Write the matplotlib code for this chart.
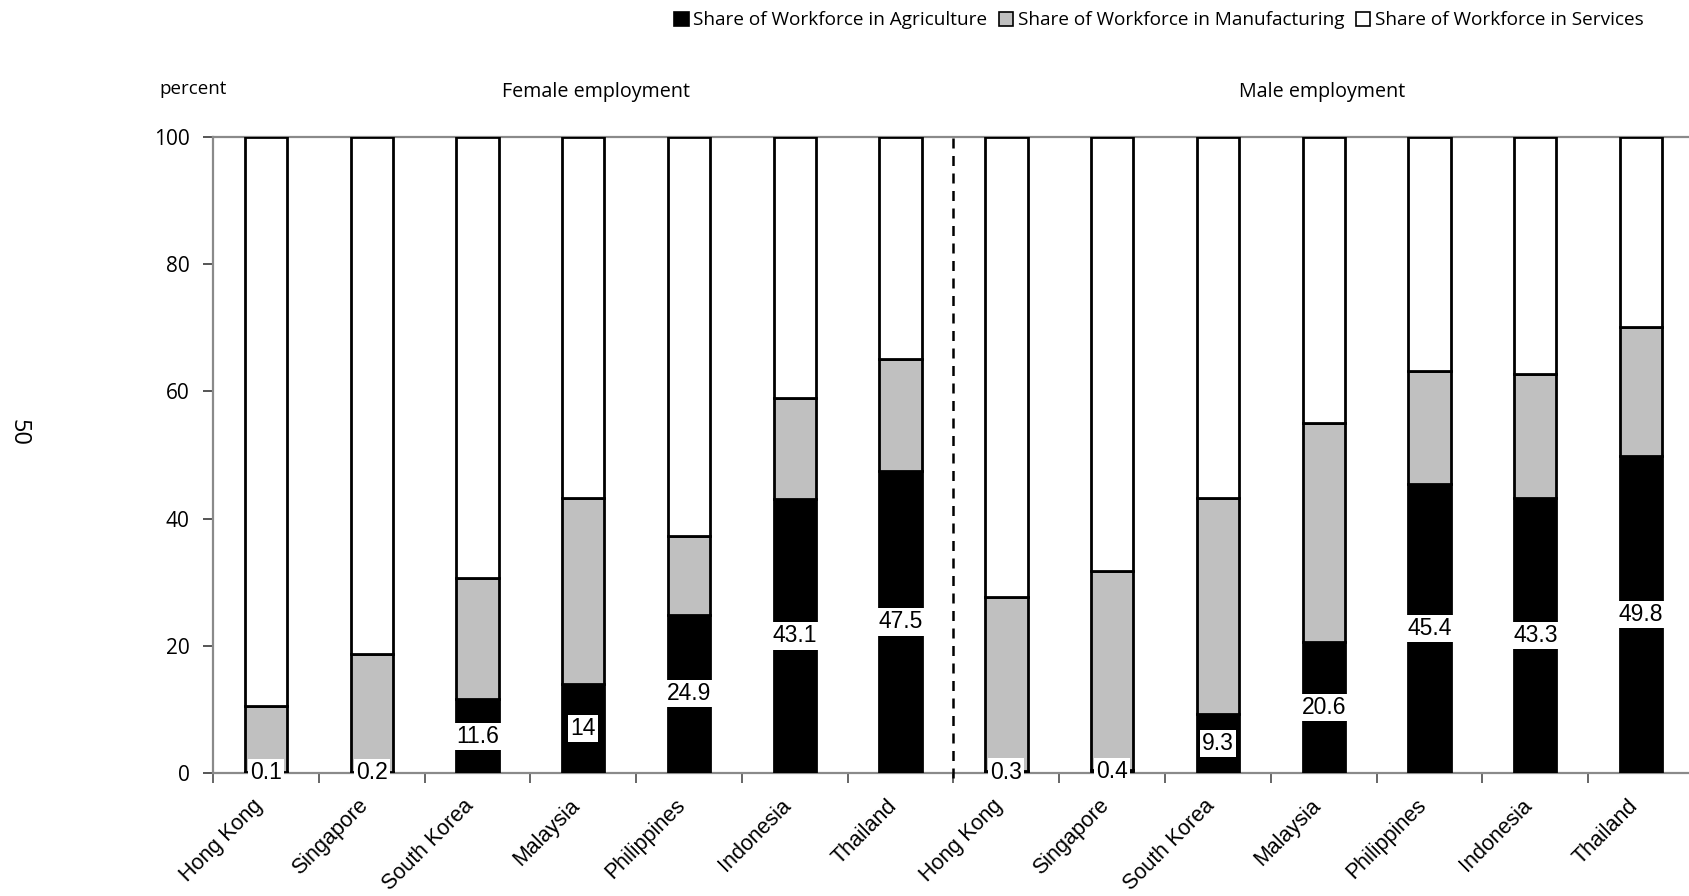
import matplotlib
matplotlib.use("Agg")
import matplotlib.pyplot as plt
from matplotlib.transforms import ScaledTranslation
import numpy as np

countries = ["Hong Kong", "Singapore", "South Korea", "Malaysia",
             "Philippines", "Indonesia", "Thailand"]

female_agri = [0.1, 0.2, 11.6, 14, 24.9, 43.1, 47.5]
female_manuf = [10.4, 18.5, 19.1, 29.3, 12.4, 15.8, 17.6]
male_agri = [0.3, 0.4, 9.3, 20.6, 45.4, 43.3, 49.8]
male_manuf = [27.4, 31.3, 34.0, 34.4, 17.8, 19.4, 20.4]

series_names = ["Share of Workforce in Agriculture",
                "Share of Workforce in Manufacturing",
                "Share of Workforce in Services"]
panel_titles = ["Female employment", "Male employment"]

agri = np.array(female_agri + male_agri)
manuf = np.array(female_manuf + male_manuf)
serv = 100 - agri - manuf
labels = countries + countries
x = np.arange(len(labels))

SANS = ["Liberation Sans", "DejaVu Sans"]
MYRIAD = ["Open Sans", "DejaVu Sans"]

fig = plt.figure(figsize=(16.89, 8.96), dpi=100)
ax = fig.add_axes([213 / 1689, 1 - 773 / 896, 1481 / 1689, 636 / 896])

w = 0.4
kw = dict(width=w, edgecolor="black", linewidth=2, zorder=3)
b1 = ax.bar(x, agri, color="black", label=series_names[0], **kw)
b2 = ax.bar(x, manuf, bottom=agri, color="#c0c0c0", label=series_names[1], **kw)
b3 = ax.bar(x, serv, bottom=agri + manuf, color="white", label=series_names[2], **kw)

# value labels centred in the agriculture segment
for xi, a in zip(x, agri):
    ax.text(xi, a / 2, f"{a:g}", ha="center", va="center", fontsize=16.5,
            family=SANS, zorder=5,
            bbox=dict(facecolor="white", edgecolor="none", pad=1.5))

ax.set_xlim(-0.5, len(labels) - 0.5)
ax.set_ylim(0, 100)

# divider between the two panels
ax.plot([6.5, 6.5], [-0.8, 100], color="black", linestyle=(0, (4, 3)),
        linewidth=1.8, zorder=4, clip_on=False)

ax.spines["right"].set_visible(False)
for side in ["left", "bottom", "top"]:
    ax.spines[side].set_color("#8a8a8a")
    ax.spines[side].set_linewidth(1.6)

ax.set_yticks([0, 20, 40, 60, 80, 100])
ax.tick_params(axis="y", length=7, width=1.4, color="#555555", pad=10,
               labelsize=15)
for t in ax.get_yticklabels():
    t.set_fontfamily(MYRIAD)

ax.set_xticks(x)
ax.set_xticklabels(labels, rotation=45, ha="right", rotation_mode="anchor",
                   fontsize=15.5, family=SANS)
ax.tick_params(axis="x", which="major", length=0, pad=16)
shift = ScaledTranslation(-14 / 100, 0, fig.dpi_scale_trans)
for t in ax.get_xticklabels():
    t.set_transform(t.get_transform() + shift)
ax.set_xticks(np.arange(-0.5, len(labels) - 0.4, 1), minor=True)
ax.tick_params(axis="x", which="minor", length=7, width=1.4, color="#666666")

fig.text(159 / 1689, 1 - 89 / 896, "percent", fontsize=13.5, family=MYRIAD,
         ha="left", va="center")
fig.text(596 / 1689, 1 - 92 / 896, panel_titles[0], fontsize=14.2,
         family=MYRIAD, ha="center", va="center")
fig.text(1322 / 1689, 1 - 92 / 896, panel_titles[1], fontsize=14.2,
         family=MYRIAD, ha="center", va="center")
fig.text(18 / 1689, 1 - 432 / 896, "50", fontsize=17, family=MYRIAD,
         rotation=-90, ha="center", va="center")

fig.legend(handles=[b1, b2, b3], labels=series_names, loc="upper right",
           bbox_to_anchor=(1655 / 1689, 1.0), ncol=3, frameon=False,
           handlelength=0.75, handleheight=0.75, handletextpad=0.25,
           columnspacing=0.6, prop=dict(family=MYRIAD, size=13.7),
           borderaxespad=0.2)
for h in fig.legends[0].legend_handles:
    h.set_linewidth(1.2)

fig.savefig("out.png", dpi=100)
